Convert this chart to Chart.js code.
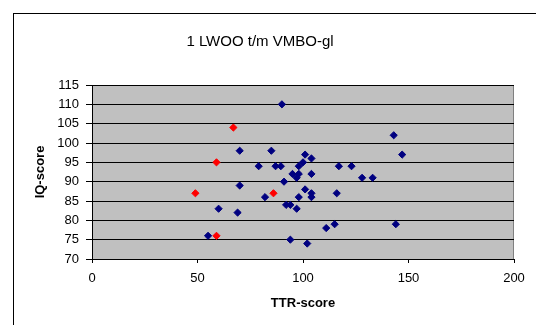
<!DOCTYPE html>
<html>
<head>
<meta charset="utf-8">
<script src="https://cdn.jsdelivr.net/npm/chart.js@4/dist/chart.umd.min.js"></script>
<style>
  html, body { margin: 0; padding: 0; background: #ffffff; }
  #wrap { width: 536px; height: 325px; position: relative; }
</style>
</head>
<body>
<div id="wrap"><canvas id="c" width="536" height="325"></canvas></div>
<script>
// ---- data ----
const chartTitle = "1 LWOO t/m VMBO-gl";
const xTitle = "TTR-score";
const yTitle = "IQ-score";

const blueX = [90, 70, 85, 101, 147, 104, 100, 79, 87, 89.5, 98, 117, 123, 95, 98, 104, 97, 128, 133, 91, 70, 101, 104, 116, 82, 98, 104, 92, 94, 97, 60, 69, 111, 115, 144, 55, 94, 102, 143];
const blueY = [110, 98, 98, 97, 97, 96, 95, 94, 94, 94, 94, 94, 94, 92, 92, 92, 91, 91, 91, 90, 89, 88, 87, 87, 86, 86, 86, 84, 84, 83, 83, 82, 78, 79, 79, 76, 75, 74, 102];

const redX = [67, 59, 49, 86, 59];
const redY = [104, 95, 87, 87, 76];

const xTicks = [0, 50, 100, 150, 200];
const yTicks = [70, 75, 80, 85, 90, 95, 100, 105, 110, 115];

function pts(xs, ys) { return xs.map((x, i) => ({ x: x, y: ys[i] })); }

const decor = {
  id: 'decor',
  beforeDraw(chart) {
    const { ctx, chartArea: a } = chart;
    ctx.save();
    ctx.fillStyle = '#ffffff';
    ctx.fillRect(0, 0, chart.width, chart.height);
    ctx.strokeStyle = '#000000';
    ctx.lineWidth = 1;
    ctx.strokeRect(13.5, 13.5, 700, 500);
    ctx.fillStyle = '#c0c0c0';
    ctx.fillRect(a.left, a.top, a.right - a.left, a.bottom - a.top);
    ctx.strokeStyle = '#808080';
    ctx.beginPath();
    ctx.moveTo(a.left, a.top + 0.5);
    ctx.lineTo(a.right - 0.5, a.top + 0.5);
    ctx.lineTo(a.right - 0.5, a.bottom);
    ctx.stroke();
    ctx.fillStyle = '#000000';
    ctx.font = '15px "Liberation Sans", Arial, sans-serif';
    ctx.textAlign = 'center';
    ctx.textBaseline = 'middle';
    ctx.fillText(chartTitle, 260, 42);
    ctx.restore();
  }
};

const tickFont = { family: '"Liberation Sans", Arial, sans-serif', size: 13 };
const titleFont = { family: '"Liberation Sans", Arial, sans-serif', size: 13, weight: 'bold' };

new Chart(document.getElementById('c'), {
  type: 'scatter',
  plugins: [decor],
  data: {
    datasets: [
      {
        data: pts(blueX, blueY),
        pointStyle: 'rectRot',
        pointRadius: 3.6,
        pointHoverRadius: 3.6,
        backgroundColor: '#000080',
        borderColor: '#000080',
        borderWidth: 1
      },
      {
        data: pts(redX, redY),
        pointStyle: 'rectRot',
        pointRadius: 3.6,
        pointHoverRadius: 3.6,
        backgroundColor: '#ff0000',
        borderColor: '#ff0000',
        borderWidth: 1
      }
    ]
  },
  options: {
    responsive: false,
    animation: false,
    devicePixelRatio: 1,
    layout: { padding: { top: 85, right: 22, left: 0, bottom: 0 } },
    plugins: {
      legend: { display: false },
      tooltip: { enabled: false },
      title: { display: false }
    },
    scales: {
      x: {
        type: 'linear',
        min: 0, max: 200,
        afterFit(s) { s.height = 66; },
        afterBuildTicks(s) { s.ticks = xTicks.map(v => ({ value: v })); },
        ticks: { color: '#000', font: tickFont, padding: 8, maxRotation: 0 },
        grid: { drawOnChartArea: false, drawTicks: true, tickLength: 4, color: '#000' },
        border: { color: '#000', width: 1 },
        title: { display: true, text: xTitle, color: '#000', font: titleFont, padding: { top: 0, bottom: 14 } }
      },
      y: {
        type: 'linear',
        min: 70, max: 115,
        afterFit(s) { s.width = 92; },
        afterBuildTicks(s) { s.ticks = yTicks.map(v => ({ value: v })); },
        ticks: { color: '#000', font: tickFont, padding: 7 },
        grid: { drawOnChartArea: true, drawTicks: true, tickLength: 6, color: '#000', lineWidth: 1 },
        border: { color: '#000', width: 1 },
        title: { display: true, text: yTitle, color: '#000', font: titleFont, padding: { top: 33, bottom: 0 } }
      }
    }
  }
});
</script>
</body>
</html>
